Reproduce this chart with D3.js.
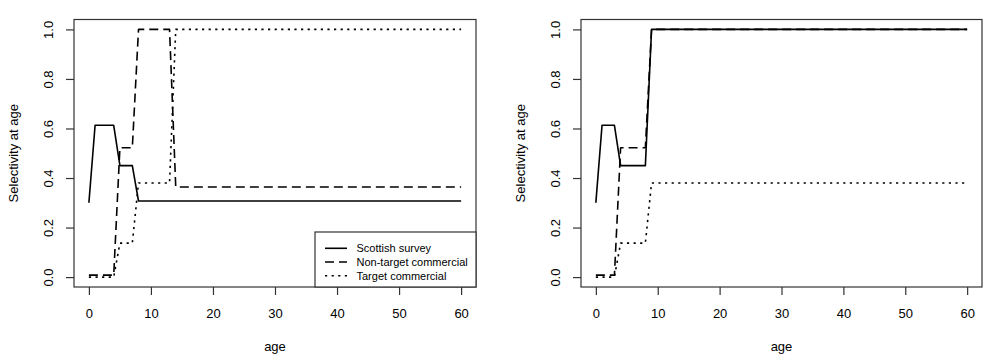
<!DOCTYPE html>
<html>
<head>
<meta charset="utf-8">
<script src="https://cdn.jsdelivr.net/npm/d3@7"></script>
<style>
  html, body { margin: 0; padding: 0; background: #fff; }
  svg { display: block; }
  text { font-family: "Liberation Sans", Arial, Helvetica, sans-serif; fill: #000; }
</style>
</head>
<body>
<svg id="chart" width="983" height="359"></svg>
<script>
// Ages (years) on the x axis
const ages = [
  0, 1, 2, 3, 4, 5, 6, 7, 8, 9,
  10, 11, 12, 13, 14, 15, 16, 17, 18, 19,
  20, 21, 22, 23, 24, 25, 26, 27, 28, 29,
  30, 31, 32, 33, 34, 35, 36, 37, 38, 39,
  40, 41, 42, 43, 44, 45, 46, 47, 48, 49,
  50, 51, 52, 53, 54, 55, 56, 57, 58, 59,
  60
];

// Left panel: selectivity at age by fleet
const surveyLeft = [
  0.30, 0.613, 0.613, 0.613, 0.613, 0.45, 0.45, 0.45, 0.307, 0.307,
  0.307, 0.307, 0.307, 0.307, 0.307, 0.307, 0.307, 0.307, 0.307, 0.307,
  0.307, 0.307, 0.307, 0.307, 0.307, 0.307, 0.307, 0.307, 0.307, 0.307,
  0.307, 0.307, 0.307, 0.307, 0.307, 0.307, 0.307, 0.307, 0.307, 0.307,
  0.307, 0.307, 0.307, 0.307, 0.307, 0.307, 0.307, 0.307, 0.307, 0.307,
  0.307, 0.307, 0.307, 0.307, 0.307, 0.307, 0.307, 0.307, 0.307, 0.307,
  0.307
];
const nonTargetLeft = [
  0.008, 0.008, 0.008, 0.008, 0.008, 0.522, 0.522, 0.522, 1.0, 1.0,
  1.0, 1.0, 1.0, 1.0, 0.364, 0.364, 0.364, 0.364, 0.364, 0.364,
  0.364, 0.364, 0.364, 0.364, 0.364, 0.364, 0.364, 0.364, 0.364, 0.364,
  0.364, 0.364, 0.364, 0.364, 0.364, 0.364, 0.364, 0.364, 0.364, 0.364,
  0.364, 0.364, 0.364, 0.364, 0.364, 0.364, 0.364, 0.364, 0.364, 0.364,
  0.364, 0.364, 0.364, 0.364, 0.364, 0.364, 0.364, 0.364, 0.364, 0.364,
  0.364
];
const targetLeft = [
  0.0, 0.0, 0.0, 0.0, 0.0, 0.137, 0.137, 0.137, 0.38, 0.38,
  0.38, 0.38, 0.38, 0.38, 1.0, 1.0, 1.0, 1.0, 1.0, 1.0,
  1.0, 1.0, 1.0, 1.0, 1.0, 1.0, 1.0, 1.0, 1.0, 1.0,
  1.0, 1.0, 1.0, 1.0, 1.0, 1.0, 1.0, 1.0, 1.0, 1.0,
  1.0, 1.0, 1.0, 1.0, 1.0, 1.0, 1.0, 1.0, 1.0, 1.0,
  1.0, 1.0, 1.0, 1.0, 1.0, 1.0, 1.0, 1.0, 1.0, 1.0,
  1.0
];

// Right panel
const surveyRight = [
  0.30, 0.613, 0.613, 0.613, 0.45, 0.45, 0.45, 0.45, 0.45, 1.0,
  1.0, 1.0, 1.0, 1.0, 1.0, 1.0, 1.0, 1.0, 1.0, 1.0,
  1.0, 1.0, 1.0, 1.0, 1.0, 1.0, 1.0, 1.0, 1.0, 1.0,
  1.0, 1.0, 1.0, 1.0, 1.0, 1.0, 1.0, 1.0, 1.0, 1.0,
  1.0, 1.0, 1.0, 1.0, 1.0, 1.0, 1.0, 1.0, 1.0, 1.0,
  1.0, 1.0, 1.0, 1.0, 1.0, 1.0, 1.0, 1.0, 1.0, 1.0,
  1.0
];
const nonTargetRight = [
  0.008, 0.008, 0.008, 0.008, 0.522, 0.522, 0.522, 0.522, 0.522, 1.0,
  1.0, 1.0, 1.0, 1.0, 1.0, 1.0, 1.0, 1.0, 1.0, 1.0,
  1.0, 1.0, 1.0, 1.0, 1.0, 1.0, 1.0, 1.0, 1.0, 1.0,
  1.0, 1.0, 1.0, 1.0, 1.0, 1.0, 1.0, 1.0, 1.0, 1.0,
  1.0, 1.0, 1.0, 1.0, 1.0, 1.0, 1.0, 1.0, 1.0, 1.0,
  1.0, 1.0, 1.0, 1.0, 1.0, 1.0, 1.0, 1.0, 1.0, 1.0,
  1.0
];
const targetRight = [
  0.0, 0.0, 0.0, 0.0, 0.137, 0.137, 0.137, 0.137, 0.137, 0.38,
  0.38, 0.38, 0.38, 0.38, 0.38, 0.38, 0.38, 0.38, 0.38, 0.38,
  0.38, 0.38, 0.38, 0.38, 0.38, 0.38, 0.38, 0.38, 0.38, 0.38,
  0.38, 0.38, 0.38, 0.38, 0.38, 0.38, 0.38, 0.38, 0.38, 0.38,
  0.38, 0.38, 0.38, 0.38, 0.38, 0.38, 0.38, 0.38, 0.38, 0.38,
  0.38, 0.38, 0.38, 0.38, 0.38, 0.38, 0.38, 0.38, 0.38, 0.38,
  0.38
];

const seriesNames = ["Scottish survey", "Non-target commercial", "Target commercial"];
const xTicks = [0, 10, 20, 30, 40, 50, 60];
const yTicks = [0.0, 0.2, 0.4, 0.6, 0.8, 1.0];
const xLabel = "age";
const yLabel = "Selectivity at age";

// line styles for the three fleets (solid, dashed, dotted)
const dashes = [null, "9,5", "2.2,4.4"];

const svg = d3.select("#chart");

const panels = [
  { left: 74, right: 476, series: [surveyLeft, nonTargetLeft, targetLeft], legend: true },
  { left: 581, right: 982, series: [surveyRight, nonTargetRight, targetRight], legend: false }
];
const plotTop = 19.5, plotBottom = 287;

panels.forEach(p => {
  // axis ranges padded by 4% each side
  const x = d3.scaleLinear().domain([-2.4, 62.4]).range([p.left, p.right]);
  const y = d3.scaleLinear().domain([-0.04, 1.04]).range([plotBottom, plotTop]);
  const g = svg.append("g");

  const line = d3.line().x((d, i) => x(ages[i])).y(d => y(d));
  p.series.forEach((vals, k) => {
    g.append("path")
      .attr("d", line(vals))
      .attr("fill", "none")
      .attr("stroke", "#000")
      .attr("stroke-width", 1.6)
      .attr("stroke-linejoin", "round")
      .attr("stroke-dasharray", dashes[k]);
  });

  // plot frame
  g.append("rect")
    .attr("x", p.left).attr("y", plotTop)
    .attr("width", p.right - p.left).attr("height", plotBottom - plotTop)
    .attr("fill", "none").attr("stroke", "#333").attr("stroke-width", 1.2);

  // x axis
  const ax = g.append("g").attr("transform", `translate(0,${plotBottom})`)
    .call(d3.axisBottom(x).tickValues(xTicks).tickSize(8).tickPadding(14));
  ax.select(".domain").remove();
  ax.selectAll("line").attr("stroke", "#333").attr("stroke-width", 1.2);
  ax.selectAll("text").style("font-size", "13px").attr("fill", "#000");

  // y axis with labels turned parallel to the axis
  const ay = g.append("g").attr("transform", `translate(${p.left},0)`)
    .call(d3.axisLeft(y).tickValues(yTicks).tickSize(8).tickFormat(d3.format(".1f")));
  ay.select(".domain").remove();
  ay.selectAll("line").attr("stroke", "#333").attr("stroke-width", 1.2);
  ay.selectAll("text")
    .style("font-size", "13px")
    .attr("fill", "#000")
    .attr("transform", "rotate(-90)")
    .attr("x", 0).attr("y", -21).attr("dy", null)
    .attr("text-anchor", "middle");

  // axis titles
  g.append("text")
    .attr("x", (x(0) + x(60)) / 2).attr("y", 351)
    .attr("text-anchor", "middle").style("font-size", "13px")
    .text(xLabel);
  g.append("text")
    .attr("transform", `translate(${p.left - 56},${(plotTop + plotBottom) / 2}) rotate(-90)`)
    .attr("text-anchor", "middle").style("font-size", "13px")
    .text(yLabel);

  if (p.legend) {
    const lx0 = 315, ly0 = 232;
    const lg = g.append("g");
    lg.append("rect")
      .attr("x", lx0).attr("y", ly0)
      .attr("width", p.right - lx0).attr("height", plotBottom - ly0)
      .attr("fill", "#fff").attr("stroke", "#333").attr("stroke-width", 1.2);
    const rowY = [248.3, 262, 275.7];
    seriesNames.forEach((name, k) => {
      lg.append("line")
        .attr("x1", 325).attr("x2", 347)
        .attr("y1", rowY[k]).attr("y2", rowY[k])
        .attr("stroke", "#000").attr("stroke-width", 1.6)
        .attr("stroke-dasharray", dashes[k]);
      lg.append("text")
        .attr("x", 356.5).attr("y", rowY[k]).attr("dy", "0.35em")
        .style("font-size", "11px")
        .text(name);
    });
  }
});
</script>
</body>
</html>
